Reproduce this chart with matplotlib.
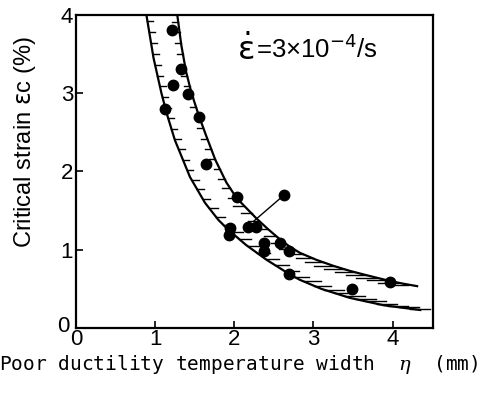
import numpy as np
import matplotlib.pyplot as plt
from matplotlib.transforms import ScaledTranslation

# measured points (eta in mm, critical strain in %)
eta = [1.21, 1.33, 1.22, 1.41, 1.13, 1.56, 1.64, 2.03, 2.63, 1.94,
       1.93, 2.17, 2.27, 2.37, 2.37, 2.58, 2.69, 2.69, 3.49, 3.97]
strain = [3.81, 3.31, 3.10, 2.99, 2.80, 2.69, 2.09, 1.68, 1.70, 1.28,
          1.19, 1.29, 1.29, 1.09, 0.99, 1.09, 0.99, 0.69, 0.50, 0.59]

# band limits
upper_x = [1.28, 1.33, 1.39, 1.46, 1.55, 1.64, 1.76, 1.90, 2.03, 2.28,
           2.43, 2.58, 2.70, 2.83, 3.04, 3.25, 3.46, 3.67, 3.97, 4.14, 4.31]
upper_y = [4.00, 3.62, 3.28, 3.00, 2.72, 2.47, 2.15, 1.86, 1.66, 1.40,
           1.26, 1.13, 1.04, 0.96, 0.87, 0.795, 0.73, 0.675, 0.60, 0.565, 0.535]
lower_x = [0.89, 0.98, 1.08, 1.15, 1.25, 1.44, 1.63, 1.80, 1.93, 2.15,
           2.41, 2.71, 2.83, 3.10, 3.46, 3.89, 4.35]
lower_y = [4.00, 3.45, 3.00, 2.73, 2.40, 1.93, 1.60, 1.38, 1.25, 1.06,
           0.87, 0.68, 0.615, 0.50, 0.385, 0.29, 0.23]

# pointer line from the lone point to the band
ptr_from = (2.63, 1.70)
ptr_to = (2.24, 1.36)

xticks = [0, 1, 2, 3, 4]
yticks = [0, 1, 2, 3, 4]

plt.rcParams['font.family'] = ['Liberation Sans', 'DejaVu Sans']
plt.rcParams['mathtext.fontset'] = 'custom'
plt.rcParams['mathtext.rm'] = 'DejaVu Sans'
plt.rcParams['mathtext.it'] = 'DejaVu Serif:italic'

fig = plt.figure(figsize=(4.87, 3.94), dpi=100)
ax = fig.add_axes([0.156, 0.1675, 0.733, 0.7945])
ax.set_xlim(0, 4.51)
ax.set_ylim(0, 4.0)


def hatches(xs, ys, direction, step=11):
    # short horizontal dashes along a curve, pointing into the band
    to_px = ax.transData
    pts = to_px.transform(np.column_stack([xs, ys]))
    seg = np.hypot(np.diff(pts[:, 0]), np.diff(pts[:, 1]))
    s = np.concatenate([[0], np.cumsum(seg)])
    inv = to_px.inverted()
    for si in np.arange(step * 0.6, s[-1] - 4, step):
        px = np.interp(si, s, pts[:, 0])
        py = np.interp(si, s, pts[:, 1])
        i = min(np.searchsorted(s, si), len(seg))
        slope = abs((pts[i, 1] - pts[i - 1, 1]) / max(pts[i, 0] - pts[i - 1, 0], 1e-6))
        length = np.clip(16 / (0.5 + slope), 6, 20)
        a = inv.transform((px, py))
        b = inv.transform((px + direction * length, py))
        ax.plot([a[0], b[0]], [a[1], b[1]], color='black', lw=1.0)


ax.plot(upper_x, upper_y, color='black', lw=1.6)
ax.plot(lower_x, lower_y, color='black', lw=1.6)
hatches(lower_x, lower_y, +1)
hatches(upper_x, upper_y, -1)

ax.plot([ptr_from[0], ptr_to[0]], [ptr_from[1], ptr_to[1]], color='black', lw=1.0)
ax.plot(eta, strain, 'o', color='black', markersize=7.5, zorder=5)

# strain rate note: big epsilon with dot, then the value
ax.text(2.04, 3.55, r'$\dot{\mathrm{\varepsilon}}$', fontsize=23, ha='left', va='center')
ax.text(2.27, 3.57, r'=3×10$^{\mathrm{-4}}$/s', fontsize=18.5, ha='left', va='center')

ax.set_xticks(xticks)
ax.set_yticks(yticks)
ax.tick_params(direction='in', length=5, width=1.2, labelsize=16)
ax.tick_params(axis='x', pad=1)
ax.tick_params(axis='y', pad=2)
for sp in ax.spines.values():
    sp.set_linewidth(1.6)

# the two zeros sit a little apart in the original
ylab0 = ax.get_yticklabels()[0]
ylab0.set_transform(ylab0.get_transform() + ScaledTranslation(-0.04, 0.04, fig.dpi_scale_trans))

ax.set_ylabel(r'Critical strain $\mathrm{\varepsilon}$c (%)', fontsize=17)
ax.yaxis.set_label_coords(-0.105, 0.595)
ax.set_xlabel(r'Poor ductility temperature width  $\eta$  (mm)', fontsize=14,
              family='DejaVu Sans Mono')
ax.xaxis.set_label_coords(0.457, -0.08)

fig.savefig('out.png', dpi=100)
